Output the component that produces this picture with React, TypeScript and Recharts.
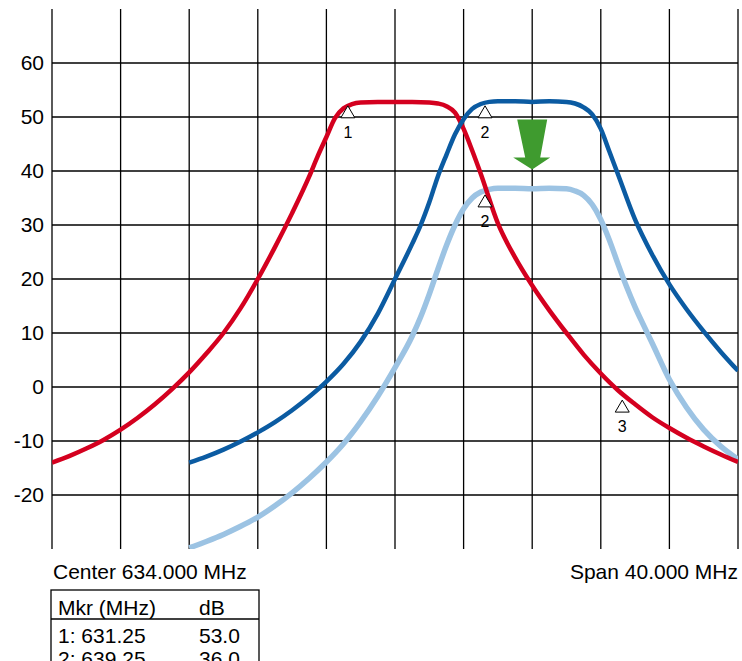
import React from 'react';
import { LineChart, Line, XAxis, YAxis, CartesianGrid, ReferenceDot } from 'recharts';

// frequency axis (MHz) and level axis (dB)
const freqTicks = [614, 618, 622, 626, 630, 634, 638, 642, 646, 650, 654];
const dbTicks = [-20, -10, 0, 10, 20, 30, 40, 50, 60];
const freqDomain = [614, 654];
const dbDomain = [-30, 70];

// trace 1 (red)
const redFreq = [614, 615, 616, 617, 618, 619, 620, 621, 622, 623, 624, 625, 626, 627, 628, 629, 629.5, 630, 630.5, 631, 631.5, 632, 633, 634, 635, 636, 636.5, 637, 637.5, 638, 638.5, 639, 640, 641, 642, 643, 644, 645, 646, 647, 648, 649, 650, 651, 652, 653, 654];
const redDb = [-14, -12.8, -11.4, -9.8, -7.9, -5.7, -3.2, -0.4, 2.7, 6.2, 10.0, 14.6, 20.0, 25.9, 32.2, 39.0, 42.8, 46.3, 49.8, 51.6, 52.4, 52.7, 52.8, 52.8, 52.8, 52.7, 52.5, 52.0, 50.8, 47.8, 43.8, 39.5, 30.3, 24.0, 18.8, 14.2, 10.0, 6.0, 2.5, -0.6, -3.2, -5.6, -7.6, -9.4, -11.0, -12.5, -13.9];

// trace 2 (dark blue)
const blueFreq = [622, 623, 624, 625, 626, 627, 628, 629, 630, 631, 632, 633, 634, 635, 635.5, 636, 636.5, 637, 637.5, 638, 638.5, 639, 639.5, 640, 641, 642, 643, 644, 644.5, 645, 645.5, 646, 646.5, 647, 648, 649, 650, 651, 652, 653, 654];
const blueDb = [-14.0, -12.9, -11.6, -10.1, -8.4, -6.5, -4.3, -1.8, 1.0, 4.3, 8.4, 13.6, 20.0, 26.5, 30.0, 34.2, 39.0, 43.0, 46.8, 49.6, 51.5, 52.4, 52.8, 52.9, 52.9, 52.8, 52.9, 52.8, 52.5, 51.8, 50.5, 47.8, 43.6, 39.4, 31.0, 24.5, 19.0, 14.4, 10.3, 6.5, 3.0];

// trace 3 (light blue)
const lightFreq = [622, 623, 624, 625, 626, 627, 628, 629, 630, 631, 632, 633, 634, 635, 635.5, 636, 636.5, 637, 637.5, 638, 638.5, 639, 639.5, 640, 641, 642, 643, 644, 644.5, 645, 645.5, 646, 646.5, 647, 647.5, 648, 648.5, 649, 650, 651, 652, 653, 654];
const lightDb = [-29.8, -28.6, -27.3, -25.8, -24.1, -22.0, -19.6, -16.9, -13.9, -10.5, -6.4, -1.7, 3.6, 9.4, 13.0, 17.2, 21.8, 26.2, 30.0, 33.0, 35.0, 36.1, 36.6, 36.8, 36.8, 36.7, 36.8, 36.7, 36.3, 35.5, 33.8, 31.0, 27.2, 22.8, 18.6, 14.8, 11.4, 8.1, 1.4, -3.8, -7.9, -11.0, -13.4];

// markers
const markerFreq = [631.25, 639.25, 639.25, 647.25];
const markerDb = [53.0, 53.0, 36.5, -1.5];
const markerLabel = ['1', '2', '2', '3'];

// green arrow tip
const arrowFreq = 642;
const arrowDb = 40.3;

// marker table
const tableMkr = ['1: 631.25', '2: 639.25'];
const tableDb = ['53.0', '36.0'];

const toPoints = (f: number[], d: number[]) => f.map((x, i) => ({ f: x, db: d[i] }));

const redData = toPoints(redFreq, redDb);
const blueData = toPoints(blueFreq, blueDb);
const lightData = toPoints(lightFreq, lightDb);

const FONT = '"Liberation Sans", Arial, sans-serif';

const MarkerShape = (props: any) => {
  const { cx, cy, label } = props;
  return (
    <g>
      <polygon
        points={`${cx},${cy + 5} ${cx + 7},${cy + 17} ${cx - 7},${cy + 17}`}
        fill="#fff"
        stroke="#000"
        strokeWidth={1}
      />
      <text x={cx} y={cy + 37} textAnchor="middle" fontSize={16} fill="#000">
        {label}
      </text>
    </g>
  );
};

const ArrowShape = (props: any) => {
  const { cx, cy } = props;
  return (
    <polygon
      points={`${cx},${cy} ${cx - 19},${cy - 12} ${cx - 7},${cy - 12} ${cx - 15},${cy - 50} ${cx + 15},${cy - 50} ${cx + 8},${cy - 12} ${cx + 18},${cy - 12}`}
      fill="#3f9b2f"
    />
  );
};

// grid lines at the tick values, mapped over the plot area
const vGen = (p: any) => {
  const o = p.offset;
  const [a, b] = freqDomain;
  return freqTicks.map((t) => o.left + ((t - a) / (b - a)) * o.width);
};
const hGen = (p: any) => {
  const o = p.offset;
  const [a, b] = dbDomain;
  return dbTicks.map((t) => o.top + ((b - t) / (b - a)) * o.height);
};

export default function App() {
  return (
    <div style={{ position: 'absolute', left: 0, top: 0, width: 742, height: 661, fontFamily: FONT, background: '#fff' }}>
      <LineChart width={742} height={560} margin={{ top: 9, right: 4, bottom: 11, left: 0 }}>
        <CartesianGrid
          stroke="#000"
          strokeWidth={1.3}
          verticalCoordinatesGenerator={vGen}
          horizontalCoordinatesGenerator={hGen}
        />
        <XAxis
          dataKey="f"
          type="number"
          domain={freqDomain}
          ticks={freqTicks}
          allowDataOverflow
          tick={false}
          tickLine={false}
          height={0}
          axisLine={{ stroke: '#000', strokeWidth: 1.3 }}
        />
        <YAxis
          type="number"
          domain={dbDomain}
          ticks={dbTicks}
          allowDataOverflow
          width={52}
          axisLine={false}
          tickLine={false}
          tick={{ fontSize: 21, fill: '#000', fontFamily: FONT }}
        />
        <Line data={lightData} dataKey="db" type="monotone" stroke="#9cc3e3" strokeWidth={5.5} dot={false} isAnimationActive={false} />
        <Line data={redData} dataKey="db" type="monotone" stroke="#d4001f" strokeWidth={4.5} dot={false} isAnimationActive={false} />
        <Line data={blueData} dataKey="db" type="monotone" stroke="#0b5ba2" strokeWidth={4.5} dot={false} isAnimationActive={false} />
        {markerFreq.map((f, i) => (
          <ReferenceDot
            key={i}
            x={f}
            y={markerDb[i]}
            shape={(p: any) => <MarkerShape {...p} label={markerLabel[i]} />}
          />
        ))}
        <ReferenceDot x={arrowFreq} y={arrowDb} shape={(p: any) => <ArrowShape {...p} />} />
      </LineChart>
      <svg width={742} height={661} style={{ position: 'absolute', left: 0, top: 0, pointerEvents: 'none' }}>
        <g fontFamily={FONT} fontSize={21} fill="#000">
          <text x={53} y={579}>Center 634.000 MHz</text>
          <text x={738} y={579} textAnchor="end">Span 40.000 MHz</text>
          <rect x={51} y={590} width={208} height={110} fill="none" stroke="#000" strokeWidth={1.3} />
          <line x1={51} y1={619} x2={259} y2={619} stroke="#000" strokeWidth={1.3} />
          <text x={58} y={615}>Mkr (MHz)</text>
          <text x={199} y={615}>dB</text>
          {tableMkr.map((m, i) => (
            <g key={i}>
              <text x={58} y={643 + i * 23}>{m}</text>
              <text x={199} y={643 + i * 23}>{tableDb[i]}</text>
            </g>
          ))}
        </g>
      </svg>
    </div>
  );
}
